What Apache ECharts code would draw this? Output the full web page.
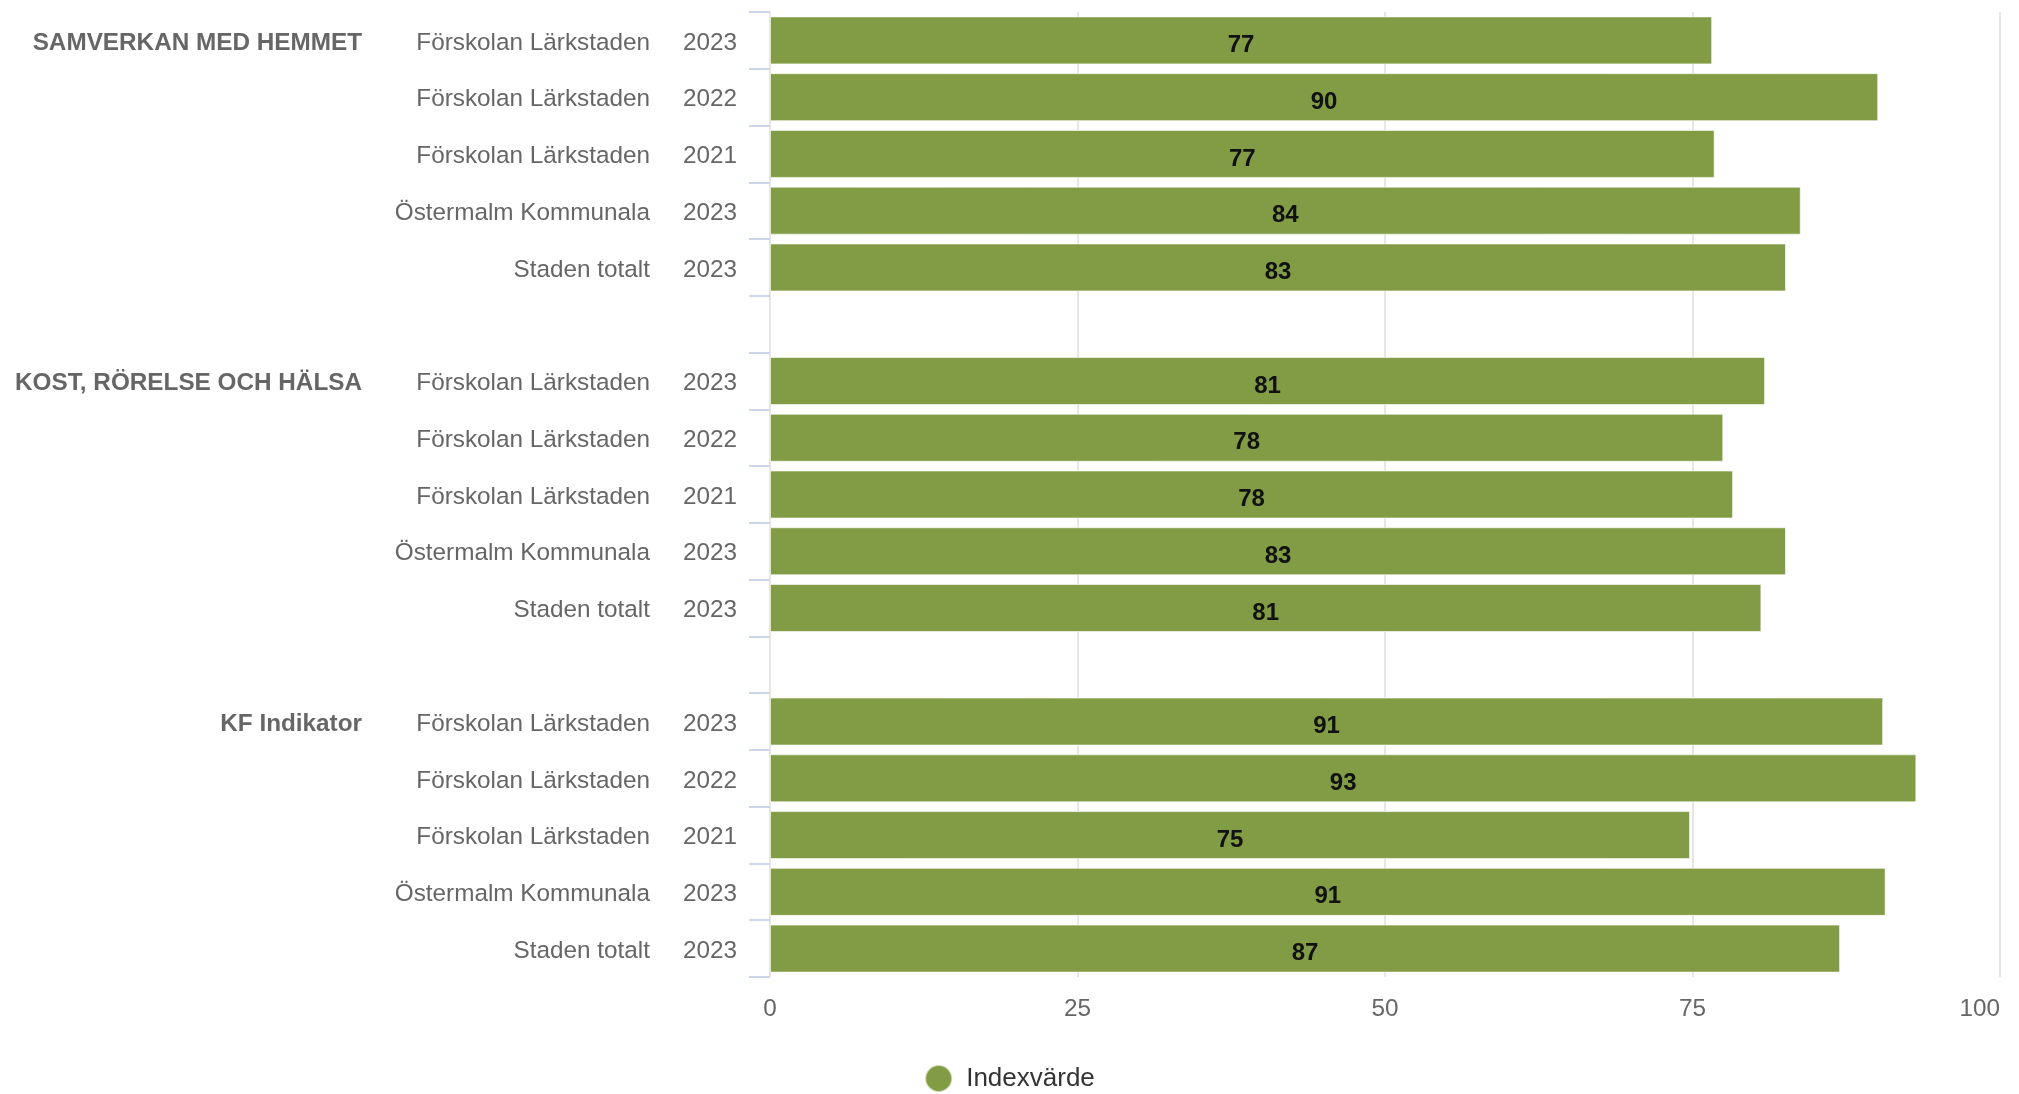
<!DOCTYPE html>
<html>
<head>
<meta charset="utf-8">
<script src="https://cdn.jsdelivr.net/npm/echarts@6/dist/echarts.min.js"></script>
<style>
html,body{margin:0;padding:0;background:#fff;}
#chart{width:2019px;height:1094px;}
</style>
</head>
<body>
<div id="chart"></div>
<script>
// ---- data ----
var groups = ['SAMVERKAN MED HEMMET', 'KOST, RÖRELSE OCH HÄLSA', 'KF Indikator'];
var units = ['Förskolan Lärkstaden', 'Förskolan Lärkstaden', 'Förskolan Lärkstaden', 'Östermalm Kommunala', 'Staden totalt'];
var years = ['2023', '2022', '2021', '2023', '2023'];
var samverkanValues = [76.6, 90.1, 76.8, 83.8, 82.6];
var kostValues = [80.9, 77.5, 78.3, 82.6, 80.6];
var kfValues = [90.5, 93.2, 74.8, 90.7, 87.0];
var seriesName = 'Indexvärde';
var xTicks = [0, 25, 50, 75, 100];

// ---- build rows (blank row between groups) ----
var groupValues = [samverkanValues, kostValues, kfValues];
var rowGroup = [], rowUnit = [], rowYear = [], rowValue = [], cats = [];
groups.forEach(function (g, gi) {
  if (gi > 0) {
    rowGroup.push(''); rowUnit.push(''); rowYear.push(''); rowValue.push(null);
  }
  units.forEach(function (u, ui) {
    rowGroup.push(ui === 0 ? g : '');
    rowUnit.push(u);
    rowYear.push(years[ui]);
    rowValue.push(groupValues[gi][ui]);
  });
});
for (var i = 0; i < rowValue.length; i++) cats.push(String(i));

var FONT = '"Liberation Sans", Arial, Helvetica, sans-serif';
var FS = 24.3;
var chart = echarts.init(document.getElementById('chart'));
chart.setOption({
  backgroundColor: '#ffffff',
  animation: false,
  textStyle: { fontFamily: FONT },
  grid: { left: 770, right: 19, top: 12, bottom: 117, containLabel: false },
  legend: {
    data: [seriesName],
    left: 'center',
    top: 1059,
    icon: 'circle',
    itemWidth: 27,
    itemHeight: 27,
    textStyle: { fontSize: 26, color: '#333333', fontFamily: FONT, padding: [0, 0, 0, 9] }
  },
  xAxis: {
    type: 'value',
    min: xTicks[0],
    max: xTicks[xTicks.length - 1],
    interval: 25,
    axisLine: { show: false },
    axisTick: { show: false },
    splitLine: { show: true, lineStyle: { color: '#e6e6e6', width: 2 } },
    axisLabel: { fontSize: FS, color: '#666666', margin: 20, fontFamily: FONT, alignMaxLabel: 'right' }
  },
  yAxis: {
    type: 'category',
    inverse: true,
    data: cats,
    axisLine: { show: false },
    axisTick: { show: true, length: 21, lineStyle: { color: '#ccd6eb', width: 2 } },
    splitLine: { show: false },
    axisLabel: {
      margin: 33,
      interval: 0,
      padding: [5, 0, 0, 0],
      fontFamily: FONT,
      formatter: function (v) {
        var i = +v;
        if (!rowUnit[i]) return '';
        return '{g|' + (rowGroup[i] || ' ') + '}{n|' + rowUnit[i] + '}{y|' + rowYear[i] + '}';
      },
      rich: {
        g: { width: 340, align: 'right', fontSize: FS, fontWeight: 'bold', color: '#666666', fontFamily: FONT },
        n: { width: 288, align: 'right', fontSize: FS, color: '#666666', fontFamily: FONT },
        y: { width: 87, align: 'right', fontSize: FS, color: '#666666', fontFamily: FONT }
      }
    }
  },
  series: [{
    name: seriesName,
    type: 'bar',
    data: rowValue,
    barWidth: 48,
    itemStyle: { color: '#819c44', borderColor: 'rgba(255,255,255,0.6)', borderWidth: 1 },
    label: {
      show: true,
      position: 'inside',
      offset: [0, 5],
      fontSize: 24,
      fontWeight: 'bold',
      color: '#111111',
      fontFamily: FONT,
      formatter: function (p) { return p.value == null ? '' : Math.round(p.value); }
    }
  }]
});
</script>
</body>
</html>
